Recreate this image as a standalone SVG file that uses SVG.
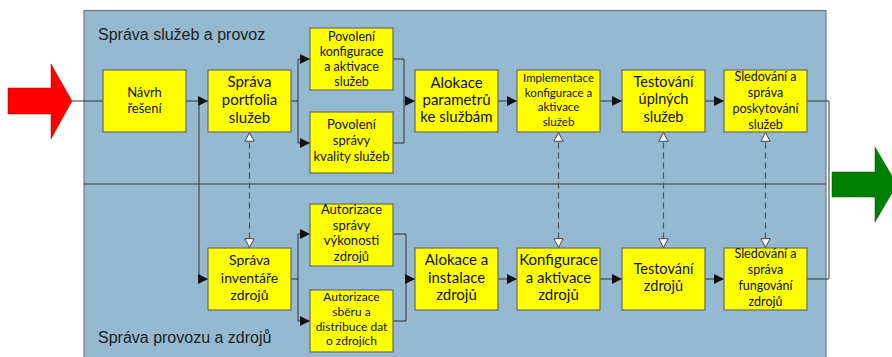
<svg xmlns="http://www.w3.org/2000/svg" width="892" height="357" viewBox="0 0 892 357">
<defs>
<marker id="ah" viewBox="0 0 10 10" refX="10" refY="5" markerWidth="10" markerHeight="10" markerUnits="userSpaceOnUse" orient="auto">
<path d="M0,0 L10,5 L0,10 z" fill="#111"/>
</marker>
<marker id="oh" viewBox="0 0 10 10" refX="9.5" refY="5" markerWidth="11" markerHeight="11" markerUnits="userSpaceOnUse" orient="auto-start-reverse">
<path d="M1.5,0.8 L9.5,5 L1.5,9.2 z" fill="#fff" stroke="#444" stroke-width="0.9"/>
</marker>
</defs>
<style>
.box{fill:#ffff00;stroke:#6b6b6b;stroke-width:1.2}
.t{font-family:Lato,"Liberation Sans",sans-serif;fill:#111;text-anchor:middle}
.c{fill:none;stroke:#333;stroke-width:1}
.a{marker-end:url(#ah)}
.d{fill:none;stroke:#555;stroke-width:1.2;stroke-dasharray:6,4;marker-start:url(#oh);marker-end:url(#oh)}
.lbl{font-family:"Liberation Sans",Arial,sans-serif;font-size:16px;fill:#222}
</style>
<rect width="892" height="357" fill="#fff"/>
<g id="panel">
<rect x="84" y="10.5" width="742" height="360" fill="#94b9d0" stroke="#777" stroke-width="1.2"/>
<line x1="84" y1="184" x2="826" y2="184" stroke="#3a3a3a" stroke-width="1.2"/>
<text class="lbl" x="98" y="40">Správa služeb a provoz</text>
<text class="lbl" x="98" y="343">Správa provozu a zdrojů</text>
</g>
<g id="arrow-in">
<path d="M8,88 L51,88 L51,64 L72,101 L51,139 L51,114 L8,114 z" fill="#ff0000" stroke="#a00" stroke-width="0.5"/>
</g>
<g id="arrow-out">
<path d="M832,172 L875,172 L875,147 L897,184.5 L875,222 L875,197 L832,197 z" fill="#008000" stroke="#050" stroke-width="0.5"/>
</g>
<g id="connectors">
<line class="c" x1="72" y1="101" x2="103" y2="101"/>
<line class="c a" x1="186" y1="101" x2="208" y2="101"/>
<polyline class="c a" points="199,101 199,279 208,279"/>
<line class="c" x1="291" y1="101" x2="298" y2="101"/>
<polyline class="c a" points="298,101 298,59 310,59"/>
<polyline class="c a" points="298,101 298,143 310,143"/>
<polyline class="c" points="393,59 404,59 404,143 393,143"/>
<line class="c a" x1="404" y1="101" x2="415" y2="101"/>
<line class="c a" x1="498" y1="101" x2="517" y2="101"/>
<line class="c a" x1="600" y1="101" x2="622" y2="101"/>
<line class="c a" x1="705" y1="101" x2="724" y2="101"/>
<polyline class="c" points="807,101 829,101 829,279 807,279" stroke="#444"/>
<line class="c" x1="291" y1="279" x2="298" y2="279"/>
<polyline class="c a" points="298,279 298,234 310,234"/>
<polyline class="c a" points="298,279 298,321 310,321"/>
<polyline class="c" points="393,234 406,234 406,321 393,321"/>
<line class="c a" x1="406" y1="279" x2="415" y2="279"/>
<line class="c a" x1="498" y1="279" x2="517" y2="279"/>
<line class="c a" x1="600" y1="279" x2="622" y2="279"/>
<line class="c a" x1="705" y1="279" x2="724" y2="279"/>
<line class="d" x1="249.5" y1="132.5" x2="249.5" y2="247.5"/>
<line class="d" x1="558.5" y1="132.5" x2="558.5" y2="247.5"/>
<line class="d" x1="663.5" y1="132.5" x2="663.5" y2="247.5"/>
<line class="d" x1="765.5" y1="132.5" x2="765.5" y2="247.5"/>
</g>
<g id="n-navrh">
<rect class="box" x="103" y="70" width="83" height="62"/>
<text class="t" font-size="13"><tspan x="144.5" y="97">Návrh</tspan><tspan x="144.5" y="113">řešení</tspan></text>
</g>
<g id="n-portfolio">
<rect class="box" x="208" y="70" width="83" height="62"/>
<text class="t" font-size="15"><tspan x="249.5" y="87">Správa</tspan><tspan x="249.5" y="105">portfolia</tspan><tspan x="249.5" y="123">služeb</tspan></text>
</g>
<g id="n-povoleni-konf">
<rect class="box" x="310" y="28" width="83" height="62"/>
<text class="t" font-size="12.5"><tspan x="351.5" y="41">Povolení</tspan><tspan x="351.5" y="56">konfigurace</tspan><tspan x="351.5" y="71">a aktivace</tspan><tspan x="351.5" y="86">služeb</tspan></text>
</g>
<g id="n-povoleni-kval">
<rect class="box" x="310" y="112" width="83" height="61"/>
<text class="t" font-size="13"><tspan x="351.5" y="129">Povolení</tspan><tspan x="351.5" y="145">správy</tspan><tspan x="351.5" y="161">kvality služeb</tspan></text>
</g>
<g id="n-alokace-par">
<rect class="box" x="415" y="70" width="83" height="62"/>
<text class="t" font-size="15"><tspan x="456.5" y="88">Alokace</tspan><tspan x="456.5" y="105">parametrů</tspan><tspan x="456.5" y="122">ke službám</tspan></text>
</g>
<g id="n-implementace">
<rect class="box" x="517" y="70" width="83" height="62"/>
<text class="t" font-size="11.5"><tspan x="558.5" y="82">Implementace</tspan><tspan x="558.5" y="97">konfigurace a</tspan><tspan x="558.5" y="111">aktivace</tspan><tspan x="558.5" y="126">služeb</tspan></text>
</g>
<g id="n-testovani-upl">
<rect class="box" x="622" y="70" width="83" height="62"/>
<text class="t" font-size="14.5"><tspan x="663.5" y="87">Testování</tspan><tspan x="663.5" y="104">úplných</tspan><tspan x="663.5" y="122">služeb</tspan></text>
</g>
<g id="n-sledovani-posk">
<rect class="box" x="724" y="70" width="83" height="62"/>
<text class="t" font-size="12.5"><tspan x="765.5" y="81">Sledování a</tspan><tspan x="765.5" y="97">správa</tspan><tspan x="765.5" y="113">poskytování</tspan><tspan x="765.5" y="129">služeb</tspan></text>
</g>
<g id="n-inventar">
<rect class="box" x="208" y="248" width="83" height="62"/>
<text class="t" font-size="14"><tspan x="249.5" y="265">Správa</tspan><tspan x="249.5" y="283">inventáře</tspan><tspan x="249.5" y="300">zdrojů</tspan></text>
</g>
<g id="n-autor-vykon">
<rect class="box" x="310" y="204" width="83" height="62"/>
<text class="t" font-size="13"><tspan x="351.5" y="214">Autorizace</tspan><tspan x="351.5" y="230">správy</tspan><tspan x="351.5" y="245">výkonosti</tspan><tspan x="351.5" y="261">zdrojů</tspan></text>
</g>
<g id="n-autor-sber">
<rect class="box" x="310" y="290" width="83" height="62"/>
<text class="t" font-size="12"><tspan x="351.5" y="301">Autorizace</tspan><tspan x="351.5" y="316">sběru a</tspan><tspan x="351.5" y="331">distribuce dat</tspan><tspan x="351.5" y="345">o zdrojích</tspan></text>
</g>
<g id="n-alokace-inst">
<rect class="box" x="415" y="248" width="83" height="62"/>
<text class="t" font-size="15"><tspan x="456.5" y="265">Alokace a</tspan><tspan x="456.5" y="283">instalace</tspan><tspan x="456.5" y="300">zdrojů</tspan></text>
</g>
<g id="n-konfigurace">
<rect class="box" x="517" y="248" width="83" height="62"/>
<text class="t" font-size="15"><tspan x="558.5" y="265">Konfigurace</tspan><tspan x="558.5" y="283">a aktivace</tspan><tspan x="558.5" y="300">zdrojů</tspan></text>
</g>
<g id="n-testovani-zdr">
<rect class="box" x="622" y="248" width="83" height="62"/>
<text class="t" font-size="14.5"><tspan x="663.5" y="274">Testování</tspan><tspan x="663.5" y="291">zdrojů</tspan></text>
</g>
<g id="n-sledovani-fung">
<rect class="box" x="724" y="248" width="83" height="62"/>
<text class="t" font-size="12.5"><tspan x="765.5" y="258">Sledování a</tspan><tspan x="765.5" y="274">správa</tspan><tspan x="765.5" y="290">fungování</tspan><tspan x="765.5" y="306">zdrojů</tspan></text>
</g>
</svg>
